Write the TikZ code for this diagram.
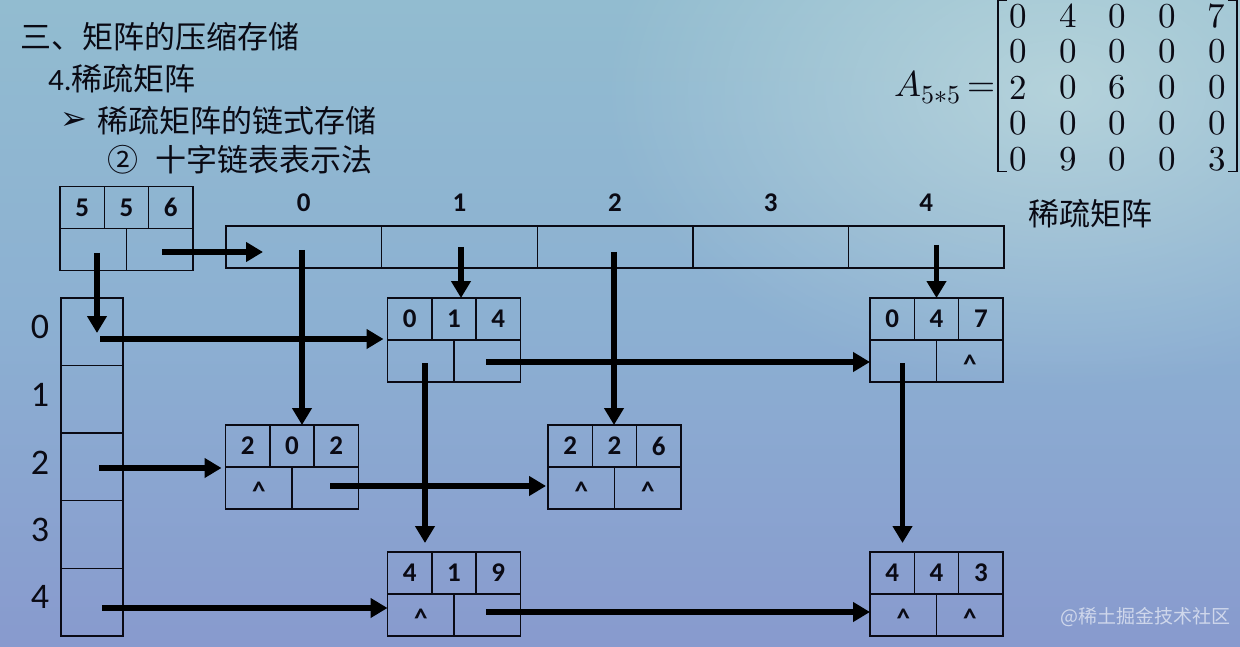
\documentclass[tikz,border=0pt]{standalone}
\usepackage{fontspec}
\usepackage{unicode-math}
\setmainfont{Carlito}
\newfontfamily\cjk{Noto Sans CJK SC}
\newfontfamily\djv{DejaVu Sans}
\usetikzlibrary{arrows.meta,calc,matrix,fadings}

\definecolor{bgtop}{RGB}{146,188,208}
\definecolor{bgmid}{RGB}{140,176,210}
\definecolor{bgbot}{RGB}{136,154,206}
\definecolor{bglight}{RGB}{205,228,226}
\definecolor{inkc}{RGB}{10,10,20}

\tikzfading[name=softglow, inner color=transparent!0, outer color=transparent!100]

\tikzset{
  box/.style={draw=inkc, line width=1.4pt, inner sep=0pt, outer sep=0pt},
  div/.style={draw=inkc, line width=1.4pt},
  num/.style={font=\fontsize{27}{30}\selectfont\bfseries, inner sep=0pt, text=inkc},
  caretlbl/.style={font=\fontsize{27}{30}\selectfont\bfseries, inner sep=0pt, anchor=base, text=inkc},
  rowlbl/.style={font=\fontsize{36}{40}\selectfont, inner sep=0pt, text=inkc},
  cjktxt/.style={font=\cjk\fontsize{31}{36}\selectfont, inner sep=0pt, anchor=west, text=inkc},
  arr/.style={draw=black, line width=5.5pt, -{Triangle[length=17pt,width=19pt]}},
  brk/.style={draw=inkc, line width=1.6pt},
}

\newcommand\olnode[8]{%
  \node[box, minimum width=133pt, minimum height=84pt] (#1) at (#2,#3) {};
  \draw[div] (#1.west) -- (#1.east);
  \draw[div] ($(#1.north west)!1/3!(#1.north east)$) -- ($(#1.west)!1/3!(#1.east)$);
  \draw[div] ($(#1.north west)!2/3!(#1.north east)$) -- ($(#1.west)!2/3!(#1.east)$);
  \draw[div] (#1.center) -- (#1.south);
  \node[num] (#1-i) at ($(#1.north west)!1/6!(#1.north east)+(0,21)$) {#4};
  \node[num] (#1-j) at ($(#1.north west)!3/6!(#1.north east)+(0,21)$) {#5};
  \node[num] (#1-v) at ($(#1.north west)!5/6!(#1.north east)+(0,21)$) {#6};
  \node[caretlbl] (#1-d) at ($(#1.west)!1/4!(#1.east)+(0,33)$) {#7};
  \node[caretlbl] (#1-r) at ($(#1.west)!3/4!(#1.east)+(0,33)$) {#8};
}

\begin{document}
\begin{tikzpicture}[x=1pt,y=-1pt]
\useasboundingbox (0,0) rectangle (1240,647);
\shade[top color=bgtop, bottom color=bgbot, middle color=bgmid] (0,0) rectangle (1240,647);
\fill[bglight, path fading=softglow, opacity=0.6] (1060,90) ellipse [x radius=460, y radius=300];

% titles
\node[cjktxt] (t1) at (20,37) {三、矩阵的压缩存储};
\node[cjktxt] (t2) at (48,79) {{\fontspec{Carlito}4.}稀疏矩阵};
\node[inner sep=0pt, anchor=west, font=\djv\fontsize{32}{36}\selectfont, text=inkc] (t3a) at (60,121) {➢};
\node[cjktxt] (t3) at (97,121) {稀疏矩阵的链式存储};
\node[cjktxt] (t4a) at (107,160) {②};
\node[cjktxt] (t4) at (155,160) {十字链表表示法};
\node[cjktxt] (t5) at (1028,214) {稀疏矩阵};

% matrix
\node[anchor=base west, inner sep=0pt, font=\fontsize{36}{40}\selectfont, text=inkc] (Alab) at (894,97) {$A$\raisebox{-7pt}{\fontsize{26}{30}\selectfont$5{*}5$}};
\node[anchor=base west, inner sep=0pt, font=\fontsize{36}{40}\selectfont, text=inkc] (eq) at (967,97) {$=$};
\matrix (M) [matrix of math nodes, column sep=0pt, row sep=0pt,
  nodes={minimum width=49.7pt, minimum height=35.8pt, inner sep=0pt, anchor=center,
         font=\fontsize{35}{40}\selectfont, text=inkc}] at (1117.5,87.5) {
  0 & 4 & 0 & 0 & 7 \\
  0 & 0 & 0 & 0 & 0 \\
  2 & 0 & 6 & 0 & 0 \\
  0 & 0 & 0 & 0 & 0 \\
  0 & 9 & 0 & 0 & 3 \\
};
\draw[brk] ($(M.north west)+(17.5,6)$) -- ($(M.north west)+(8.5,6)$) -- ($(M.south west)+(8.5,-9)$) -- ($(M.south west)+(17.5,-9)$);
\draw[brk] ($(M.north east)+(-17.5,6)$) -- ($(M.north east)+(-8.5,6)$) -- ($(M.south east)+(-8.5,-9)$) -- ($(M.south east)+(-17.5,-9)$);

% column header array
\node[box, minimum width=778pt, minimum height=42pt] (C) at (615,247) {};
\foreach \k in {1,...,4}
  \draw[div] ($(C.north west)!\k/5!(C.north east)$) -- ($(C.south west)!\k/5!(C.south east)$);
\foreach \i in {0,...,4}
  \node[num] (cl\i) at ({226+155.6*(\i+0.5)},203) {\i};

% row header array
\node[box, minimum width=62pt, minimum height=338pt] (R) at (92,467) {};
\foreach \k in {1,...,4}
  \draw[div] ($(R.north west)!\k/5!(R.south west)$) -- ($(R.north east)!\k/5!(R.south east)$);
\foreach \i/\y in {0/327,1/395,2/463,3/530,4/597}
  \node[rowlbl] (rl\i) at (40,\y) {\i};

% list nodes
\olnode{H}{126.5}{228.5}{5}{5}{6}{}{}
\olnode{nA}{454}{340}{0}{1}{4}{}{}
\olnode{nB}{936.5}{340}{0}{4}{7}{}{\textasciicircum}
\olnode{nC}{292}{467}{2}{0}{2}{\textasciicircum}{}
\olnode{nD}{614.5}{467}{2}{2}{6}{\textasciicircum}{\textasciicircum}
\olnode{nE}{454}{594}{4}{1}{9}{\textasciicircum}{}
\olnode{nF}{936.5}{594}{4}{4}{3}{\textasciicircum}{\textasciicircum}

% connectors
\coordinate (hd) at (97,253);  \coordinate (hdE) at (97,333);
\coordinate (hr) at (162,252); \coordinate (hrE) at (263,252);
\draw[arr] (hd) -- (hdE);
\draw[arr] (hr) -- (hrE);

\coordinate (c0) at (302,250);
\coordinate (c1) at (461,247);
\coordinate (c2) at (614,252);
\coordinate (c4) at (936.5,245);
\draw[arr] (c0) -- (c0 |- nC.north);
\draw[arr] (c1) -- (c1 |- nA.north);
\draw[arr] (c2) -- (c2 |- nD.north);
\draw[arr] (c4) -- (c4 |- nB.north);

\coordinate (r0) at (100,339);
\coordinate (r2) at (99,468);
\coordinate (r4) at (102,608);
\draw[arr, shorten >=4pt] (r0) -- (r0 -| nA.west);
\draw[arr, shorten >=4pt] (r2) -- (r2 -| nC.west);
\draw[arr] (r4) -- (r4 -| nE.west);

\coordinate (aR) at (486,362);
\coordinate (aD) at (425,363);
\coordinate (bD) at (902.5,363);
\coordinate (cR) at (330,486);
\coordinate (eR) at (486,612);
\draw[arr] (aR) -- (aR -| nB.west);
\draw[arr, shorten >=9pt] (aD) -- (aD |- nE.north);
\draw[arr, shorten >=9pt] (bD) -- (bD |- nF.north);
\draw[arr, shorten >=2pt] (cR) -- (cR -| nD.west);
\draw[arr] (eR) -- (eR -| nF.west);

% watermark
\node[anchor=west, inner sep=0pt, font=\cjk\fontsize{19}{22}\selectfont, text=white, opacity=0.6] (wm) at (1060,617) {@稀土掘金技术社区};
\end{tikzpicture}
\end{document}
